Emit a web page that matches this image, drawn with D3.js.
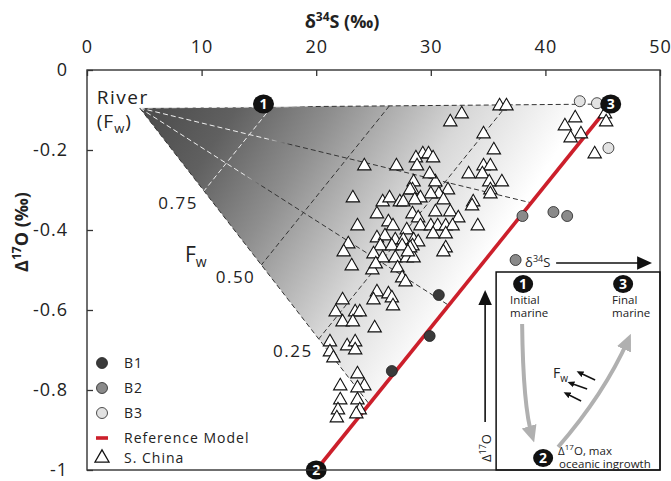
<!DOCTYPE html>
<html>
<head>
<meta charset="utf-8">
<script src="https://cdn.jsdelivr.net/npm/d3@7"></script>
<style>
body { margin: 0; background: #fff; }
text { font-family: "Open Sans", "Noto Sans", sans-serif; fill: #222; }
</style>
</head>
<body>
<svg id="chart" width="671" height="481"></svg>
<script>
// axis ticks
var xTicks = [0, 10, 20, 30, 40, 50];
var yTicks = [0, -0.2, -0.4, -0.6, -0.8, -1];

// mixing model end members (d34S, D17O)
var river = [4.6, -0.095];
var initialMarine = [15.4, -0.085];
var maxIngrowth = [20, -1];
var finalMarine = [45.7, -0.085];
// river mixing lines end on the reference model at these fractions (2 -> 3)
var mixEnds = [1, 0.73, 0.45, 0.18];
// Fw contours, position along each mixing line
var fwLevels = ["0.75", "0.50", "0.25"];
var fwPos = [0.28, 0.53, 0.78];

// measured data
var b1 = [[30.7, -0.5625], [29.9, -0.665], [26.6, -0.7525]];
var b2 = [[38.0, -0.365], [40.7, -0.355], [41.9, -0.365], [37.4, -0.475]];
var b3 = [[43.0, -0.078], [44.5, -0.083], [45.5, -0.195]];
var sChina = [
  [36.0,-0.09],[36.6,-0.09],[32.7,-0.11],[31.7,-0.13],[34.6,-0.16],[35.5,-0.20],
  [29.3,-0.21],[29.8,-0.21],[30.2,-0.22],[28.7,-0.22],[28.8,-0.24],[24.2,-0.24],[27.0,-0.24],
  [42.6,-0.12],[41.7,-0.14],[43.1,-0.16],[42.2,-0.17],[45.2,-0.11],[45.3,-0.13],[44.3,-0.21],
  [33.3,-0.26],[34.6,-0.24],[35.2,-0.24],[34.5,-0.26],[35.1,-0.28],[36.2,-0.28],[35.2,-0.30],[35.2,-0.31],
  [28.5,-0.28],[30.4,-0.28],[29.9,-0.26],[28.4,-0.30],[31.5,-0.30],[30.7,-0.31],[30.0,-0.31],[29.1,-0.32],
  [31.1,-0.325],[33.7,-0.33],[33.6,-0.34],
  [23.2,-0.32],[25.8,-0.33],[26.4,-0.32],[27.3,-0.33],[27.6,-0.33],[28.2,-0.30],[28.6,-0.325],
  [25.3,-0.36],[26.3,-0.38],[28.4,-0.36],[28.9,-0.37],[30.4,-0.355],[31.7,-0.355],[32.4,-0.37],
  [23.6,-0.39],[26.7,-0.39],[27.9,-0.40],[29.1,-0.39],[30.0,-0.39],[30.6,-0.39],[31.3,-0.39],[31.9,-0.39],[34.1,-0.39],
  [25.3,-0.42],[26.0,-0.415],[26.9,-0.425],[27.6,-0.425],[28.5,-0.425],[30.2,-0.41],[31.3,-0.41],
  [22.8,-0.435],[22.4,-0.455],[23.1,-0.49],[28.9,-0.43],[25.6,-0.44],[26.6,-0.44],[27.5,-0.44],[28.4,-0.44],
  [31.3,-0.445],[31.1,-0.455],
  [25.0,-0.46],[25.8,-0.47],[26.9,-0.47],[27.9,-0.47],[28.5,-0.47],[28.2,-0.445],[28.0,-0.455],
  [27.1,-0.495],[24.9,-0.50],[25.2,-0.485],[27.5,-0.52],[27.8,-0.53],
  [25.3,-0.555],[26.3,-0.56],[26.6,-0.57],[25.0,-0.575],[26.7,-0.59],[22.3,-0.575],
  [21.7,-0.605],[23.4,-0.605],[23.8,-0.605],[22.3,-0.63],[23.2,-0.63],[25.1,-0.645],
  [21.2,-0.68],[21.2,-0.705],[21.5,-0.72],[22.7,-0.69],[23.4,-0.68],[23.4,-0.70],
  [23.6,-0.76],[24.2,-0.79],[23.6,-0.795],[22.1,-0.79],[22.1,-0.825],[23.6,-0.825],
  [21.9,-0.85],[21.8,-0.87],[23.8,-0.85],[23.5,-0.86]
];

var legendItems = [
  {label: "B1", type: "circle", fill: "#3a3a3a"},
  {label: "B2", type: "circle", fill: "#8a8a8a"},
  {label: "B3", type: "circle", fill: "#e2e2e2"},
  {label: "Reference Model", type: "line"},
  {label: "S. China", type: "triangle"}
];

var redColor = "#cc1f2b";

var svg = d3.select("#chart");
var margin = {top: 70, right: 11, bottom: 11, left: 87},
    width = 671 - margin.left - margin.right,
    height = 481 - margin.top - margin.bottom;

var x = d3.scaleLinear().domain([0, 50]).range([0, width]);
var y = d3.scaleLinear().domain([-1, 0]).range([height, 0]);

var g = svg.append("g")
    .attr("transform", "translate(" + margin.left + "," + margin.top + ")");

var lerp = function(a, b, t) { return [a[0] + (b[0] - a[0]) * t, a[1] + (b[1] - a[1]) * t]; };
var onModel = function(t) { return lerp(maxIngrowth, finalMarine, t); };
var line = d3.line().x(function(d) { return x(d[0]); }).y(function(d) { return y(d[1]); });

/* defs: gradients and arrow heads */
var defs = svg.append("defs");
var gradEnd = [34.3, -0.65];
var shade = defs.append("linearGradient").attr("id", "shade")
    .attr("gradientUnits", "userSpaceOnUse")
    .attr("x1", x(river[0])).attr("y1", y(river[1]))
    .attr("x2", x(gradEnd[0])).attr("y2", y(gradEnd[1]));
[[0, "#4a4a4a"], [0.2, "#606060"], [0.4, "#8e8e8e"], [0.68, "#d8d8d8"], [0.92, "#ffffff"]]
  .forEach(function(s) { shade.append("stop").attr("offset", s[0]).attr("stop-color", s[1]); });

var dashGrad = defs.append("linearGradient").attr("id", "dashgrad")
    .attr("gradientUnits", "userSpaceOnUse")
    .attr("x1", x(river[0])).attr("y1", y(river[1]))
    .attr("x2", x(gradEnd[0])).attr("y2", y(gradEnd[1]));
[[0, "#f0f0f0"], [0.3, "#f0f0f0"], [0.36, "#333"], [1, "#333"]]
  .forEach(function(s) { dashGrad.append("stop").attr("offset", s[0]).attr("stop-color", s[1]); });

function arrowMarker(id, color, size) {
    defs.append("marker").attr("id", id)
        .attr("viewBox", "0 0 10 10")
        .attr("refX", 6).attr("refY", 5)
        .attr("markerUnits", "userSpaceOnUse")
        .attr("markerWidth", size).attr("markerHeight", size)
        .attr("orient", "auto")
      .append("path")
        .attr("d", "M0,0.5L10,5L0,9.5z")
        .attr("fill", color);
}
arrowMarker("headGrey", "#b0b0b0", 17);
arrowMarker("headBlack", "#111", 15);
arrowMarker("headSmall", "#111", 7);

/* shaded mixing field */
var lowEnd = onModel(mixEnds[mixEnds.length - 1]);
g.append("path")
    .attr("d", line([river, finalMarine, lowEnd]) + "Z")
    .attr("fill", "url(#shade)");

/* mixing lines from river */
var mixLines = mixEnds.map(function(t) { return [river, onModel(t)]; });
g.selectAll(".mix").data(mixLines).enter().append("path")
    .attr("class", "mix")
    .attr("d", line)
    .attr("fill", "none")
    .attr("stroke", function(d, i) { return i === mixLines.length - 1 ? "#333" : "url(#dashgrad)"; })
    .attr("stroke-width", 1)
    .attr("stroke-dasharray", "5,3");

/* Fw contours */
var contours = fwPos.map(function(s) {
    return mixLines.map(function(m) { return lerp(m[0], m[1], s); });
});
g.selectAll(".fw").data(contours).enter().append("path")
    .attr("class", "fw")
    .attr("d", line)
    .attr("fill", "none")
    .attr("stroke", "url(#dashgrad)")
    .attr("stroke-width", 1)
    .attr("stroke-dasharray", "5,3");

g.selectAll(".fwlab").data(contours).enter().append("text")
    .attr("class", "fwlab")
    .attr("x", function(d) { return x(d[d.length - 1][0]) - 6; })
    .attr("y", function(d) { return y(d[d.length - 1][1]) + 18; })
    .attr("text-anchor", "end")
    .attr("font-size", 17)
    .attr("letter-spacing", 1.5)
    .text(function(d, i) { return fwLevels[i]; });

var fwText = g.append("text")
    .attr("x", x(contours[0][3][0]) - 19)
    .attr("y", y(contours[0][3][1]) + 71)
    .attr("font-size", 21);
fwText.append("tspan").text("F");
fwText.append("tspan").attr("font-size", 14).attr("dy", 5).text("w");

/* river label */
var rx = x(river[0]) - 43, ry = y(river[1]);
g.append("text").attr("x", rx).attr("y", ry - 4)
    .attr("font-size", 19).attr("letter-spacing", 1.5).text("River");
var fwRiver = g.append("text").attr("x", rx).attr("y", ry + 20)
    .attr("font-size", 19).attr("letter-spacing", 1);
fwRiver.append("tspan").text("(F");
fwRiver.append("tspan").attr("font-size", 13).attr("dy", 5).text("w");
fwRiver.append("tspan").attr("dy", -5).text(")");

/* reference model */
g.append("path")
    .attr("d", line([maxIngrowth, finalMarine]))
    .attr("stroke", redColor)
    .attr("stroke-width", 3.6)
    .attr("fill", "none");

/* S. China triangles */
var tri = d3.symbol().type(d3.symbolTriangle).size(78);
g.selectAll(".tri").data(sChina).enter().append("path")
    .attr("class", "tri")
    .attr("d", tri)
    .attr("transform", function(d) { return "translate(" + x(d[0]) + "," + y(d[1]) + ")"; })
    .attr("fill", "#fff")
    .attr("stroke", "#111")
    .attr("stroke-width", 1.1);

/* B1-B3 circles */
[[b1, "#3a3a3a"], [b2, "#8a8a8a"], [b3, "#e2e2e2"]].forEach(function(set) {
    g.selectAll(null).data(set[0]).enter().append("circle")
        .attr("cx", function(d) { return x(d[0]); })
        .attr("cy", function(d) { return y(d[1]); })
        .attr("r", 5.5)
        .attr("fill", set[1])
        .attr("stroke", "#222")
        .attr("stroke-width", 0.8);
});

/* numbered markers */
function badge(parent, cx, cy, label, r) {
    var b = parent.append("g").attr("transform", "translate(" + cx + "," + cy + ")");
    b.append("ellipse").attr("rx", r + 0.5).attr("ry", r - 0.5).attr("fill", "#111");
    b.append("text").attr("text-anchor", "middle").attr("dy", "0.36em")
        .attr("font-size", 14).attr("font-weight", "bold")
        .style("fill", "#fff").text(label);
}
badge(g, x(initialMarine[0]), y(initialMarine[1]), "1", 10);
badge(g, x(maxIngrowth[0]), y(maxIngrowth[1]), "2", 10);
badge(g, x(finalMarine[0]), y(finalMarine[1]), "3", 10);

/* frame and axes */
g.append("rect").attr("width", width).attr("height", height)
    .attr("fill", "none").attr("stroke", "#333").attr("stroke-width", 1.4);

var xAxis = g.append("g")
    .call(d3.axisTop(x).tickValues(xTicks).tickSizeInner(-6).tickSizeOuter(0).tickPadding(17));
var yAxis = g.append("g")
    .call(d3.axisLeft(y).tickValues(yTicks).tickSizeInner(-6).tickSizeOuter(0).tickPadding(19)
        .tickFormat(function(d) { return d === 0 ? "0" : String(d); }));
[xAxis, yAxis].forEach(function(a) {
    a.select(".domain").remove();
    a.selectAll("line").attr("stroke", "#333").attr("stroke-width", 1.3);
    a.selectAll("text").attr("font-size", 18).attr("letter-spacing", 1)
        .style("font-family", "'Open Sans','Noto Sans',sans-serif").style("fill", "#222");
});

var xTitle = svg.append("text")
    .attr("x", 342).attr("y", 28)
    .attr("text-anchor", "middle")
    .attr("font-size", 18).attr("font-weight", "bold");
xTitle.append("tspan").text("δ");
xTitle.append("tspan").attr("font-size", 12).attr("dy", -7).text("34");
xTitle.append("tspan").attr("dy", 7).text("S (‰)");

var yTitle = svg.append("text")
    .attr("transform", "translate(28,232) rotate(-90)")
    .attr("text-anchor", "middle")
    .attr("font-size", 18).attr("font-weight", "bold");
yTitle.append("tspan").text("Δ");
yTitle.append("tspan").attr("font-size", 12).attr("dy", -7).text("17");
yTitle.append("tspan").attr("dy", 7).text("O (‰)");

/* legend */
var legend = g.append("g").attr("transform", "translate(15," + (height - 107) + ")");
var rows = [0, 25, 50, 75, 95];
legendItems.forEach(function(d, i) {
    var row = legend.append("g").attr("transform", "translate(0," + rows[i] + ")");
    if (d.type === "circle") {
        row.append("circle").attr("r", 5.5).attr("fill", d.fill)
            .attr("stroke", "#222").attr("stroke-width", 0.8);
    } else if (d.type === "line") {
        row.append("line").attr("x1", -6).attr("x2", 6)
            .attr("stroke", redColor).attr("stroke-width", 3.6);
    } else {
        row.append("path").attr("d", d3.symbol().type(d3.symbolTriangle).size(85))
            .attr("fill", "#fff").attr("stroke", "#111").attr("stroke-width", 1.3);
    }
    row.append("text").attr("x", 22).attr("dy", "0.36em")
        .attr("font-size", 14).attr("letter-spacing", 1).text(d.label);
});

/* inset schematic */
var bx = x(35.7), by = y(-0.505);
var inset = g.append("g").attr("transform", "translate(" + bx + "," + by + ")");
inset.append("rect").attr("width", width - bx).attr("height", height - by)
    .attr("fill", "none").attr("stroke", "#111").attr("stroke-width", 1.5);

inset.append("path").attr("d", "M26,52Q27,135 36,164")
    .attr("fill", "none").attr("stroke", "#b0b0b0").attr("stroke-width", 4)
    .attr("marker-end", "url(#headGrey)");
inset.append("path").attr("d", "M62,175Q108,122 132,68")
    .attr("fill", "none").attr("stroke", "#b0b0b0").attr("stroke-width", 4)
    .attr("marker-end", "url(#headGrey)");

badge(inset, 27, 12, "1", 9.5);
badge(inset, 127, 12, "3", 9.5);
badge(inset, 47, 186, "2", 9.5);

[["Initial", 14, 32], ["marine", 14, 45], ["Final", 116, 32], ["marine", 116, 45],
 ["oceanic ingrowth", 63, 196]].forEach(function(t) {
    inset.append("text").attr("x", t[1]).attr("y", t[2]).attr("font-size", 11.5).text(t[0]);
});
var maxText = inset.append("text").attr("x", 62).attr("y", 183).attr("font-size", 11.5);
maxText.append("tspan").text("Δ");
maxText.append("tspan").attr("font-size", 8).attr("dy", -5).text("17");
maxText.append("tspan").attr("dy", 5).text("O, max");

var fwInset = inset.append("text").attr("x", 57).attr("y", 106).attr("font-size", 14);
fwInset.append("tspan").text("F");
fwInset.append("tspan").attr("font-size", 10).attr("dy", 4).text("w");

[[[99, 108], [83, 100.5]], [[91, 117], [74, 111]], [[85, 129], [70, 121.5]]].forEach(function(a) {
    inset.append("line")
        .attr("x1", a[0][0]).attr("y1", a[0][1]).attr("x2", a[1][0]).attr("y2", a[1][1])
        .attr("stroke", "#111").attr("stroke-width", 1.5)
        .attr("marker-end", "url(#headSmall)");
});

// axis hints outside the box
var sText = inset.append("text").attr("x", 29).attr("y", -5).attr("font-size", 13);
sText.append("tspan").text("δ");
sText.append("tspan").attr("font-size", 9).attr("dy", -5).text("34");
sText.append("tspan").attr("dy", 5).text("S");
inset.append("line").attr("x1", 60).attr("y1", -9).attr("x2", 150).attr("y2", -9)
    .attr("stroke", "#111").attr("stroke-width", 1.6).attr("marker-end", "url(#headBlack)");

inset.append("line").attr("x1", -11).attr("y1", 150).attr("x2", -11).attr("y2", 24)
    .attr("stroke", "#111").attr("stroke-width", 1.6).attr("marker-end", "url(#headBlack)");
var oText = inset.append("text").attr("transform", "translate(-5,176) rotate(-90)")
    .attr("text-anchor", "middle").attr("font-size", 13);
oText.append("tspan").text("Δ");
oText.append("tspan").attr("font-size", 9).attr("dy", -5).text("17");
oText.append("tspan").attr("dy", 5).text("O");
</script>
</body>
</html>
